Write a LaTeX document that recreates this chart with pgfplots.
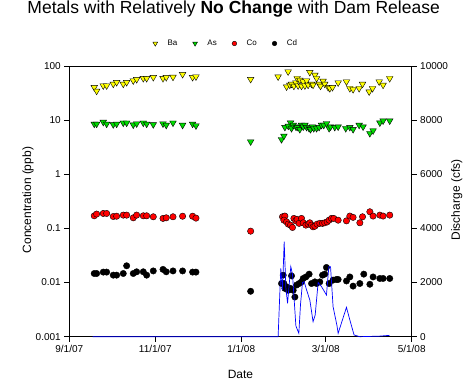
\documentclass[border=0pt]{standalone}
\usepackage{pgfplots}
\pgfplotsset{compat=1.18}
\usepackage{fontspec}
\setmainfont{Liberation Sans}
\definecolor{baY}{RGB}{255,255,0}
\definecolor{asG}{RGB}{0,220,0}
\definecolor{coR}{RGB}{255,0,0}
\begin{document}
\begin{tikzpicture}
\begin{axis}[
  at={(0,0)}, anchor=south west,
  scale only axis, width=342.4pt, height=270.7pt,
  xmin=0, xmax=243,
  ymode=log, ymin=0.001, ymax=100,
  ytick={0.001,0.01,0.1,1,10,100},
  yticklabels={0.001,0.01,0.1,1,10,100},
  xtick={0,61,122,182,243},
  xticklabels={9/1/07,11/1/07,1/1/08,3/1/08,5/1/08},
  minor x tick num=3,
  minor y tick style={draw=none},
  xtick pos=lower, ytick pos=left,
  tick align=outside,
  major tick length=5pt, minor tick length=3pt,
  axis line style={line width=0.8pt},
  every tick/.style={black, line width=0.6pt},
  tick label style={font=\fontsize{10}{12}\selectfont},
  /pgf/number format/assume math mode=true,
  label style={font=\fontsize{12}{14}\selectfont},
  xlabel={Date},
  xlabel style={at={(axis description cs:0.5,0)}, anchor=base, yshift=-41.9pt},
  ylabel={Concentration (ppb)},
  ylabel style={at={(axis description cs:-0.1206,0.505)}, anchor=center},
  title={Metals with Relatively \textbf{No Change} with Dam Release},
  title style={at={(0.48,1)}, anchor=base, yshift=46pt, font=\fontsize{17.5}{21}\selectfont},
  legend columns=4,
  legend style={draw=none, fill=none, at={(0.4547,1)}, anchor=center, yshift=22.5pt,
    font=\fontsize{8}{9.6}\selectfont, nodes={inner sep=0pt}},
  legend image code/.code={
    \draw[#1,mark repeat=2,mark phase=2,/tikz/every mark/.append style={scale=0.72}] plot coordinates {(-4pt,0pt)(0pt,0pt)(4pt,0pt)};},
  /tikz/every odd column/.append style={column sep=10pt},
  /tikz/every even column/.append style={column sep=15.3pt},
]
\addplot[only marks, mark=triangle*, mark size=3.8pt, mark options={rotate=180, fill=baY, draw=black, line width=0.4pt}] coordinates {
(17.7,40.4)(19.4,34.5)(24.1,43.3)(26.5,43.3)(31.2,46.5)(33.6,49.9)(38.3,46.5)(40.7,49.9)(45.4,53.6)(47.8,56.7)(52.5,59.2)(54.9,59.2)(59.6,61.8)(66.5,59.2)(68.8,61.8)(73.6,62.6)(80.4,70.2)(87.5,61.8)(89.9,63.5)
(128.7,57)
(148.2,63.4)(155.3,78.5)(154.2,41.4)(156.5,44.6)(157.7,46.5)(159.4,42.7)(160.8,49.2)(161.7,59.1)(162.4,43.3)(163.6,55.1)(164.8,42.7)(166,51.3)(167.2,43.3)(168.4,53.6)(169.5,44.6)(170.7,76.4)(171.9,46.5)(173,44.6)(174.3,68.2)(175.5,59.1)(177.3,46.5)(178.3,42.7)(180.1,52.8)(181.3,46.5)(183.7,40.4)(184.9,38.6)(186.8,40.4)(190.8,49.2)(196.7,51.3)(199.1,38.6)(201.4,37.0)(205.7,38.6)(208.1,46.5)(212.8,33.5)(215.2,38.6)(219.9,51.3)(222.7,44.6)(227.4,59.1)
};
\addlegendentry{Ba}
\addplot[only marks, mark=triangle*, mark size=3.8pt, mark options={rotate=180, fill=asG, draw=black, line width=0.4pt}] coordinates {
(17.7,8.5)(19.4,8.5)(24.1,9.2)(26.5,8.5)(31.2,8.3)(33.6,8.5)(38.3,8.9)(40.7,8.9)(45.4,8.2)(47.8,8.6)(52.5,8.9)(54.9,8.5)(59.6,8.3)(66.5,8.6)(68.8,8.1)(73.6,8.9)(80.4,8.1)(87.5,8.5)(89.9,7.9)
(128.7,4.0)
(150.6,4.4)(152.3,5.1)(153.0,7.4)(155.4,7.8)(157,8.95)(157.7,7.05)(158.9,8.1)(160.8,7.55)(161.7,7.4)(163.6,6.76)(164.8,8.1)(166,7.55)(167.2,8.1)(168.4,7.4)(170.2,7.05)(171.2,6.76)(172.6,7.55)(173.5,7.05)(175.5,7.05)(177.3,7.4)(179,8.1)(180.6,8.1)(182.6,8.7)(184.4,7.05)(185.4,7.55)(188.4,7.4)(190.8,7.55)(196.2,7.05)(199.1,7.4)(201.4,6.76)(205.7,8.1)(208.5,7.55)(213.3,5.7)(215.6,6.4)(220.4,8.95)(222.7,9.75)(227.4,9.75)
};
\addlegendentry{As}
\addplot[only marks, mark=*, mark size=3.2pt, mark options={fill=coR, draw=black, line width=0.4pt}] coordinates {
(17.7,0.171)(19.4,0.184)(24.1,0.189)(26.5,0.189)(31.2,0.166)(33.6,0.168)(38.3,0.176)(40.7,0.176)(45.4,0.157)(47.8,0.176)(52.5,0.171)(54.9,0.171)(59.6,0.164)(66.5,0.153)(68.8,0.157)(73.6,0.164)(80.4,0.168)(87.5,0.168)(89.9,0.155)
(128.7,0.089)
(151.3,0.164)(153,0.169)(152.3,0.142)(154.2,0.132)(155.4,0.120)(157,0.115)(158.4,0.104)(159.4,0.153)(160.8,0.138)(161.7,0.147)(163.1,0.124)(164.8,0.153)(166,0.127)(167.9,0.115)(169.5,0.120)(170.7,0.127)(171.9,0.115)(173,0.107)(174.3,0.110)(175.9,0.120)(177.8,0.124)(179.7,0.124)(181.3,0.127)(183,0.132)(184.4,0.142)(186.1,0.153)(187.7,0.153)(190.8,0.142)(196.7,0.138)(199.1,0.169)(201.4,0.160)(206.2,0.127)(208.1,0.164)(213.3,0.203)(215.6,0.169)(220.4,0.176)(222.7,0.169)(227.4,0.176)
};
\addlegendentry{Co}
\addplot[only marks, mark=*, mark size=3.2pt, mark options={fill=black, draw=black, line width=0.4pt}] coordinates {
(17.7,0.0147)(19.4,0.0147)(24.1,0.0156)(26.5,0.0156)(31.2,0.0137)(33.6,0.0137)(38.3,0.0147)(40.7,0.0204)(45.4,0.0147)(47.8,0.0158)(52.5,0.0158)(54.9,0.0137)(59.6,0.0164)(66.5,0.0175)(68.8,0.0158)(73.6,0.0164)(80.4,0.0164)(87.5,0.0156)(89.9,0.0156)
(128.7,0.0069)
(150.6,0.0096)(151.8,0.0137)(152.3,0.0096)(153,0.0078)(154.2,0.0083)(155.4,0.0072)(157,0.0078)(157.7,0.0133)(158.9,0.0072)(160.1,0.0054)(161.3,0.0090)(163.1,0.0096)(164.8,0.0103)(166,0.0119)(167.9,0.0127)(170.2,0.0143)(171.9,0.0096)(174.3,0.0103)(175.5,0.0096)(177.8,0.0103)(179.7,0.0137)(181.3,0.0143)(182.5,0.019)(184.4,0.0096)(187.2,0.0111)(189.6,0.0114)(190.8,0.0114)(196.7,0.0107)(199.1,0.0127)(201.4,0.0086)(206.2,0.0096)(209,0.0143)(213.3,0.0093)(215.6,0.0127)(220.4,0.0119)(222.7,0.0119)(227.4,0.0119)
};
\addlegendentry{Cd}
\end{axis}
\begin{axis}[
  at={(0,0)}, anchor=south west,
  scale only axis, width=342.4pt, height=270.7pt,
  xmin=0, xmax=243, ymin=0, ymax=10000,
  axis x line=none, axis y line*=right,
  clip=false,
  ytick={0,2000,4000,6000,8000,10000},
  scaled y ticks=false,
  /pgf/number format/1000 sep={},
  /pgf/number format/assume math mode=true,
  tick align=outside, major tick length=5pt,
  axis line style={line width=0.8pt},
  every tick/.style={black, line width=0.6pt},
  tick label style={font=\fontsize{10}{12}\selectfont},
  label style={font=\fontsize{12}{14}\selectfont},
  ylabel={Discharge (cfs)},
  ylabel style={at={(axis description cs:1.1314,0.505)}, anchor=center},
]
\addplot[blue, line width=0.7pt] coordinates {
(16.6,0)(148.2,0)(150.1,2527)(151.3,1725)(152.5,3510)(153.7,1800)(154.9,1234)(156.0,1900)(157.2,2586)(158.4,2300)(159.6,1356)(160.8,400)(162.9,125)(164.1,1200)(165.5,2000)(166.7,2032)(168.4,1725)(170.7,1356)(173.0,554)(174.5,800)(176.6,2000)(179.0,1850)(182.5,1540)(184.2,2586)(185.4,2586)(187.2,1108)(190.0,400)(190.8,125)(196.7,1084)(199.1,620)(202.1,63)(206.2,0)(220,20)(227.4,50)
};
\end{axis}
\pgfresetboundingbox
\path[use as bounding box] (-69.3pt,-45.3pt) rectangle (405.7pt,336.7pt);
\end{tikzpicture}
\end{document}
